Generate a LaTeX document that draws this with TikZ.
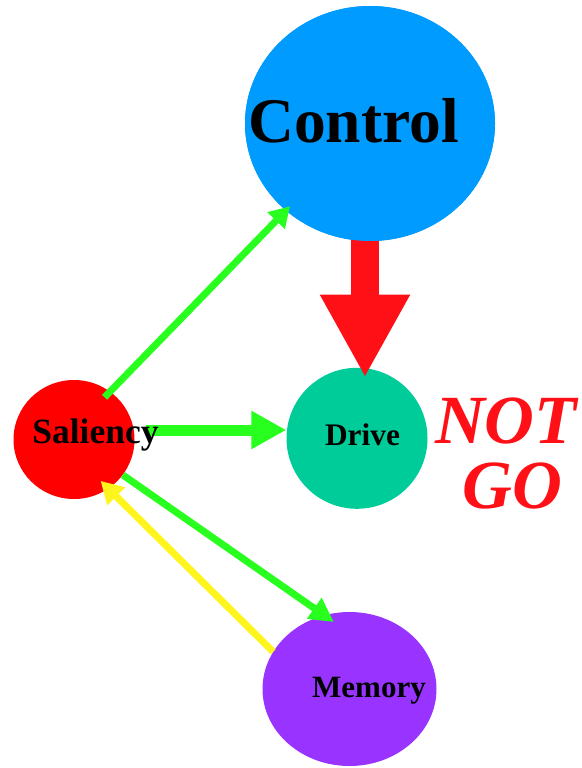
\documentclass[tikz,border=0pt]{standalone}
\usepackage{fontspec}
\setmainfont{Liberation Serif}
\usetikzlibrary{arrows.meta,shapes.geometric,calc}

\definecolor{ctlblue}{RGB}{0,155,255}
\definecolor{drvgreen}{RGB}{0,204,153}
\definecolor{salred}{RGB}{255,0,0}
\definecolor{mempurple}{RGB}{153,51,255}
\definecolor{linkgreen}{RGB}{40,255,30}
\definecolor{linkyellow}{RGB}{255,245,30}
\definecolor{boldred}{RGB}{255,16,22}

\tikzset{
  blob/.style={ellipse, inner sep=0pt, draw=none},
  lbl/.style={anchor=base, inner sep=0pt, font=\bfseries},
  glink/.style={draw=linkgreen, line width=7pt},
  ylink/.style={draw=linkyellow, line width=7pt},
}

\begin{document}
\begin{tikzpicture}[x=1pt, y=-1pt]
  \useasboundingbox (0,0) rectangle (581,768);

  % nodes
  \node[blob, fill=ctlblue, minimum width=250pt, minimum height=235pt] (ctl) at (370,123.5) {};
  \node[blob, fill=drvgreen, minimum width=141pt, minimum height=141pt] (drv) at (357,438.3) {};
  \node[blob, fill=salred, minimum width=121pt, minimum height=119pt] (sal) at (74,439.5) {};
  \node[blob, fill=mempurple, minimum width=174pt, minimum height=154pt] (mem) at (349.5,689) {};

  % wide arrow from Control down to Drive
  \draw[boldred, line width=27.5pt, -{Triangle[length=83pt, width=84pt]}]
    ([xshift=-5pt, yshift=12pt]ctl.south) -- ([xshift=8pt, yshift=-10pt]drv.north);
  \fill[ctlblue] (ctl) ellipse [x radius=125pt, y radius=117.5pt];

  % links
  \draw[glink, shorten <=-8pt, shorten >=-6pt, -{Triangle[length=20pt, width=23pt]}] (sal.53) -- (ctl.226.6);
  \draw[draw=linkgreen, line width=11pt, -{Triangle[length=35pt, width=36pt]}]
    ([xshift=11pt, yshift=9.5pt]sal.east) -- ([yshift=8.3pt]drv.west);
  \draw[glink, shorten >=-12pt, -{Triangle[length=24pt, width=24pt]}] (sal.-36.5) -- (mem.109);
  \draw[ylink, shorten >=-11pt, -{Triangle[length=22pt, width=24pt]}] (mem.154.2) -- (sal.-55.3);

  % labels
  \node[lbl, font=\bfseries\fontsize{63.5}{63.5}\selectfont] (ctltext) at (353.5,142) {Control};
  \node[lbl, font=\bfseries\fontsize{31.4}{31.4}\selectfont] (drvtext) at (362.5,445) {Drive};
  \node[lbl, font=\bfseries\fontsize{35.5}{35.5}\selectfont] (saltext) at (95.5,443) {Saliency};
  \node[lbl, font=\bfseries\fontsize{31}{31}\selectfont] (memtext) at (369,697) {Memory};
  \node[lbl, text=boldred, font=\bfseries\itshape\fontsize{69}{69}\selectfont] (nottext) at (506,443) {NOT};
  \node[lbl, text=boldred, font=\bfseries\itshape\fontsize{69}{69}\selectfont] (gotext) at (512.5,508) {GO};
\end{tikzpicture}
\end{document}
